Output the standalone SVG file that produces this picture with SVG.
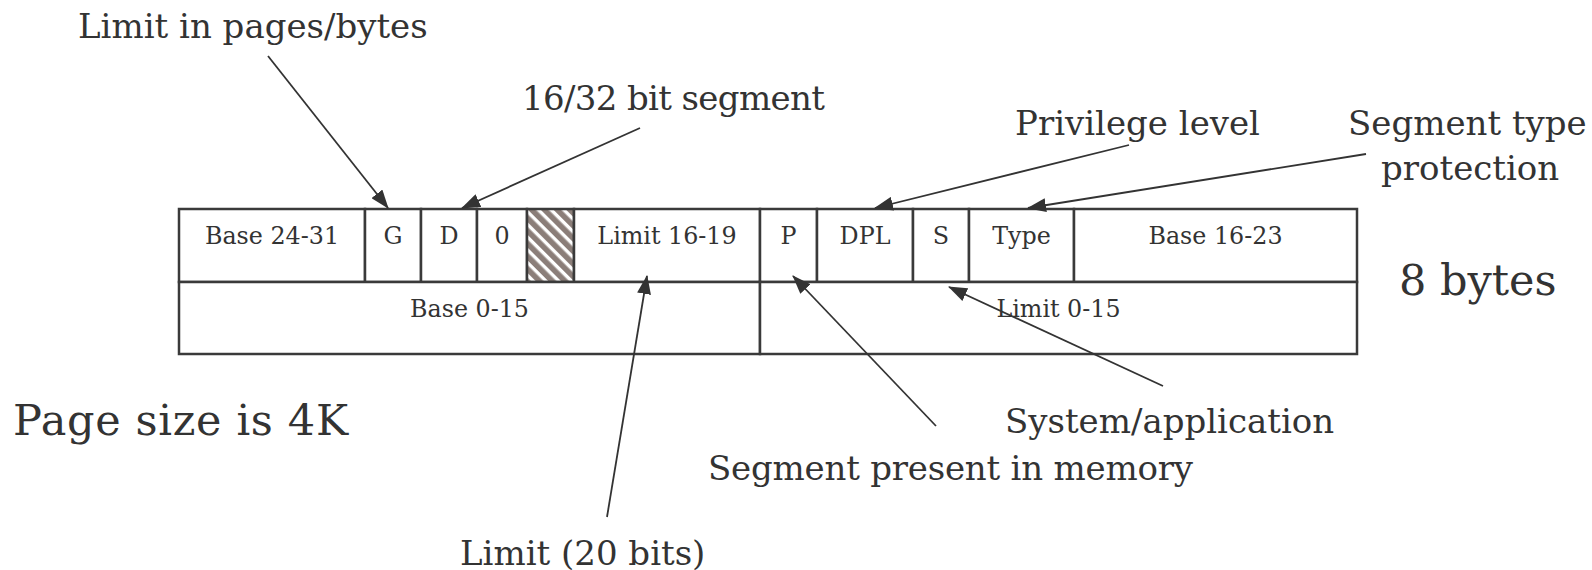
<svg xmlns="http://www.w3.org/2000/svg" width="1592" height="570" viewBox="0 0 1592 570">
  <style>
    .cell { fill: #ffffff; stroke: #3a3a3a; stroke-width: 2.5; }
    .ct { font-family: "DejaVu Serif", "Liberation Serif", serif; font-size: 23.8px; fill: #333333; text-anchor: middle; }
    .lbl { font-family: "DejaVu Serif", "Liberation Serif", serif; font-size: 34px; fill: #333333; }
    .big { font-family: "DejaVu Serif", "Liberation Serif", serif; font-size: 43px; fill: #333333; }
    .conn { stroke: #333333; stroke-width: 1.8; fill: none; marker-end: url(#arrow); }
  </style>
  <defs>
    <marker id="arrow" markerUnits="userSpaceOnUse" markerWidth="19" markerHeight="14" refX="18" refY="7" orient="auto">
      <path d="M0,0 L19,7 L0,14 z" fill="#333333"/>
    </marker>
    <pattern id="hatch" patternUnits="userSpaceOnUse" width="9" height="10" patternTransform="rotate(-45)">
      <rect x="0" y="0" width="9" height="10" fill="#ffffff"/>
      <rect x="0" y="0" width="5.6" height="10" fill="#8b7e79"/>
    </pattern>
  </defs>
  <rect width="1592" height="570" fill="#ffffff"/>

  <g id="descriptor">
    <g id="cell-base24-31"><rect class="cell" x="179" y="209" width="186" height="73"/><text class="ct" x="272" y="243.5">Base 24-31</text></g>
    <g id="cell-g"><rect class="cell" x="365" y="209" width="56" height="73"/><text class="ct" x="393" y="243.5">G</text></g>
    <g id="cell-d"><rect class="cell" x="421" y="209" width="56" height="73"/><text class="ct" x="449" y="243.5">D</text></g>
    <g id="cell-0"><rect class="cell" x="477" y="209" width="50" height="73"/><text class="ct" x="502" y="243.5">0</text></g>
    <g id="cell-avl"><rect class="cell" x="527" y="209" width="47" height="73" style="fill:url(#hatch)"/></g>
    <g id="cell-limit16-19"><rect class="cell" x="574" y="209" width="186" height="73"/><text class="ct" x="667" y="243.5">Limit 16-19</text></g>
    <g id="cell-p"><rect class="cell" x="760" y="209" width="57" height="73"/><text class="ct" x="788.5" y="243.5">P</text></g>
    <g id="cell-dpl"><rect class="cell" x="817" y="209" width="96" height="73"/><text class="ct" x="865" y="243.5">DPL</text></g>
    <g id="cell-s"><rect class="cell" x="913" y="209" width="56" height="73"/><text class="ct" x="941" y="243.5">S</text></g>
    <g id="cell-type"><rect class="cell" x="969" y="209" width="105" height="73"/><text class="ct" x="1021.5" y="243.5">Type</text></g>
    <g id="cell-base16-23"><rect class="cell" x="1074" y="209" width="283" height="73"/><text class="ct" x="1215.5" y="243.5">Base 16-23</text></g>
    <g id="cell-base0-15"><rect class="cell" x="179" y="282" width="581" height="72"/><text class="ct" x="469.5" y="316.5">Base 0-15</text></g>
    <g id="cell-limit0-15"><rect class="cell" x="760" y="282" width="597" height="72"/><text class="ct" x="1058.5" y="316.5">Limit 0-15</text></g>
  </g>

  <g id="label-limit-pages"><text class="lbl" x="78" y="38">Limit in pages/bytes</text></g>
  <g id="label-16-32"><text class="lbl" x="522" y="110" textLength="303">16/32 bit segment</text></g>
  <g id="label-privilege"><text class="lbl" x="1015" y="135">Privilege level</text></g>
  <g id="label-segtype"><text class="lbl" x="1348" y="135">Segment type</text><text class="lbl" x="1381" y="180">protection</text></g>
  <g id="label-8bytes"><text class="big" x="1399" y="295">8 bytes</text></g>
  <g id="label-pagesize"><text class="big" x="13" y="435" textLength="335">Page size is 4K</text></g>
  <g id="label-sysapp"><text class="lbl" x="1005" y="433">System/application</text></g>
  <g id="label-present"><text class="lbl" x="708" y="480" textLength="485">Segment present in memory</text></g>
  <g id="label-limit20"><text class="lbl" x="460" y="565">Limit (20 bits)</text></g>

  <g id="connectors">
    <line class="conn" x1="268" y1="56" x2="388" y2="208"/>
    <line class="conn" x1="640" y1="128" x2="462" y2="208"/>
    <line class="conn" x1="1129" y1="145" x2="875" y2="208"/>
    <line class="conn" x1="1366" y1="154" x2="1028" y2="208"/>
    <line class="conn" x1="607" y1="517" x2="647" y2="276"/>
    <line class="conn" x1="936" y1="426" x2="793" y2="276"/>
    <line class="conn" x1="1163" y1="386" x2="949" y2="287"/>
  </g>
</svg>
